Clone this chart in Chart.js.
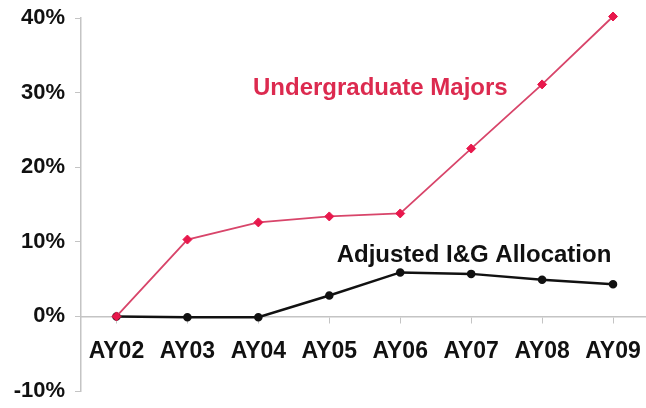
<!DOCTYPE html>
<html>
<head>
<meta charset="utf-8">
<script src="https://cdn.jsdelivr.net/npm/chart.js@4/dist/chart.umd.min.js"></script>
<style>
  html, body { margin: 0; padding: 0; background: #ffffff; overflow: hidden; }
  #wrap { width: 646px; height: 408px; overflow: hidden; }
  canvas { display: block; }
</style>
</head>
<body>
<div id="wrap"><canvas id="chart" width="654" height="408"></canvas></div>
<script>
// Academic years on the horizontal axis
const years = ['AY02', 'AY03', 'AY04', 'AY05', 'AY06', 'AY07', 'AY08', 'AY09'];

// Cumulative growth since AY02, in percent
const undergradMajors = [0, 10.3, 12.6, 13.4, 13.8, 22.5, 31.1, 40.2];
const igAllocation = [0, -0.1, -0.1, 2.8, 5.9, 5.7, 4.9, 4.3];

// Vertical axis ticks, in percent
const yTicks = [-10, 0, 10, 20, 30, 40];

const seriesNames = ['Undergraduate Majors', 'Adjusted I&G Allocation'];

const RED = '#dc2a4f';
const AXIS = '#c4c4c4';
const FONT = "'Liberation Sans', Arial, Helvetica, sans-serif";

// Drop the label overhang padding so the plot area follows layout.padding exactly
function noOverhang(scale) {
  scale.paddingTop = 0;
  scale.paddingBottom = 0;
  scale.paddingLeft = 0;
  scale.paddingRight = 0;
}

// Writes each series name next to its line
const seriesLabels = {
  id: 'seriesLabels',
  afterDatasetsDraw(chart) {
    const { ctx, scales: { x, y } } = chart;
    ctx.save();
    ctx.font = 'bold 24px ' + FONT;
    ctx.textAlign = 'center';
    ctx.textBaseline = 'middle';
    ctx.fillStyle = RED;
    ctx.fillText(seriesNames[0], x.getPixelForValue(3.72), y.getPixelForValue(30.6));
    ctx.fillStyle = '#111111';
    ctx.fillText(seriesNames[1], x.getPixelForValue(5.04), y.getPixelForValue(8.15));
    ctx.restore();
  }
};

new Chart(document.getElementById('chart'), {
  type: 'line',
  data: {
    labels: years,
    datasets: [
      {
        label: seriesNames[0],
        data: undergradMajors,
        borderColor: '#d8456a',
        backgroundColor: '#e8184c',
        borderWidth: 1.8,
        pointStyle: 'rectRot',
        pointRadius: 4.5,
        pointHoverRadius: 4.5,
        pointBorderWidth: 1,
        pointBorderColor: '#e8184c',
        clip: false,
        tension: 0
      },
      {
        label: seriesNames[1],
        data: igAllocation,
        borderColor: '#111111',
        backgroundColor: '#111111',
        borderWidth: 2.5,
        pointStyle: 'circle',
        pointRadius: 3,
        pointHoverRadius: 3,
        clip: false,
        tension: 0
      }
    ]
  },
  options: {
    responsive: false,
    animation: false,
    layout: { padding: { left: 0, right: 0, top: 18, bottom: 17 } },
    plugins: {
      legend: { display: false },
      tooltip: { enabled: false }
    },
    scales: {
      x: {
        type: 'category',
        position: { y: 0 },
        offset: true,
        afterFit: noOverhang,
        grid: {
          drawOnChartArea: false,
          drawTicks: true,
          tickLength: 6,
          color: AXIS,
          offset: false
        },
        border: { color: AXIS, width: 1.5 },
        ticks: {
          color: '#111111',
          font: { family: FONT, size: 23, weight: 'bold' },
          padding: 15,
          maxRotation: 0,
          autoSkip: false
        }
      },
      y: {
        min: -10,
        max: 40,
        afterBuildTicks(scale) {
          scale.ticks = yTicks.map(v => ({ value: v }));
        },
        afterFit(scale) {
          scale.width = 81;
          noOverhang(scale);
        },
        grid: {
          drawOnChartArea: false,
          drawTicks: true,
          tickLength: 6,
          color: AXIS
        },
        border: { color: AXIS, width: 1.5 },
        ticks: {
          color: '#111111',
          font: { family: FONT, size: 22, weight: 'bold' },
          padding: 10,
          callback: v => v + '%'
        }
      }
    }
  },
  plugins: [seriesLabels]
});
</script>
</body>
</html>
